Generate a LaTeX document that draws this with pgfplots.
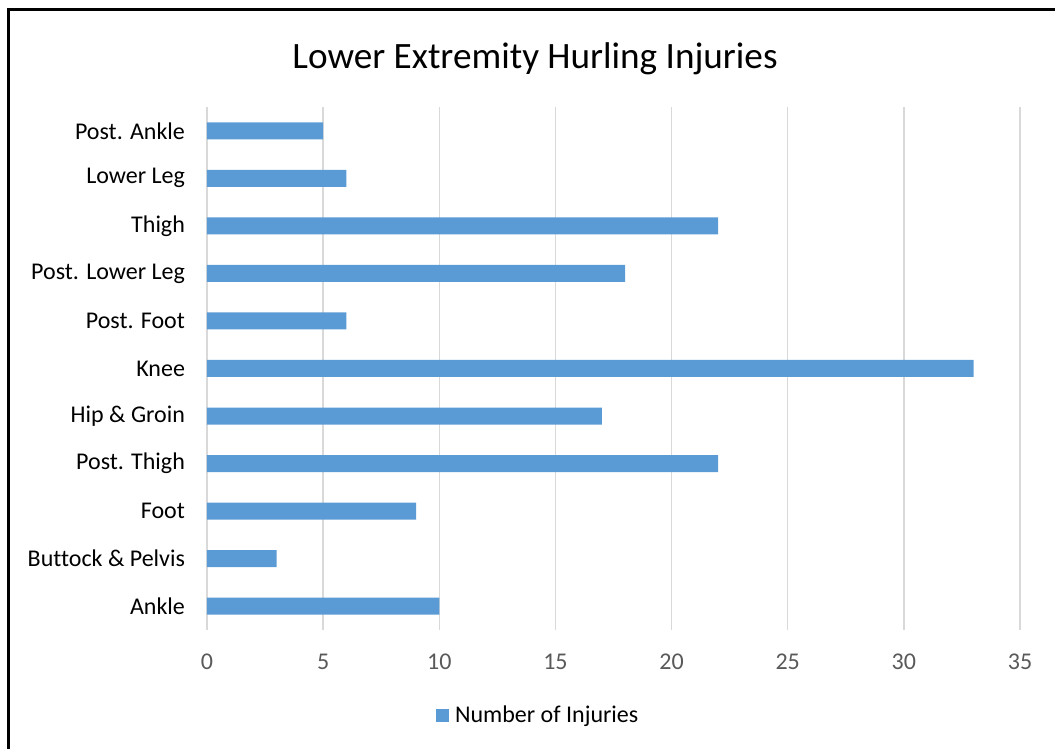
\documentclass[border=0pt]{standalone}
\usepackage{pgfplots}
\pgfplotsset{compat=1.18}
\usepackage{fontspec}
\setmainfont{Carlito}[Ligatures=NoCommon]
\definecolor{barblue}{HTML}{5B9BD5}
\definecolor{gridgray}{HTML}{D9D9D9}
\definecolor{ticktxt}{HTML}{595959}
\begin{document}
\begin{tikzpicture}[x=1pt,y=1pt]
\useasboundingbox (0,0) rectangle (527.5,374.5);
\draw[line width=1.5pt] (4.4,0) -- (4.4,369.5) -- (527.5,369.5);
\node[font=\fontsize{18.6}{22}\selectfont, text=black] at (267.5,345) {Lower Extremity Hurling Injuries};
\begin{axis}[
  at={(103.5pt,59.5pt)}, anchor=south west,
  scale only axis, width=406.5pt, height=261.5pt,
  xbar, bar width=8.5pt,
  xmin=0, xmax=35, xtick={0,5,...,35},
  ymin=-0.5, ymax=10.5,
  ytick={0,...,10},
  yticklabels={Ankle,Buttock \& Pelvis,Foot,Post. Thigh,Hip \& Groin,Knee,Post. Foot,Post. Lower Leg,Thigh,Lower Leg,Post. Ankle},
  axis line style={draw=none},
  major tick length=0pt,
  xmajorgrids, grid style={gridgray, line width=0.75pt},
  xticklabel style={text=ticktxt, font=\fontsize{12}{14}\selectfont, yshift=-8.5pt},
  yticklabel style={text=black, font=\fontsize{12}{14}\selectfont, xshift=-7.5pt},
  /pgf/number format/assume math mode=true,
  legend style={at={(0.41,-0.163)}, anchor=center, draw=none, font=\fontsize{12}{14}\selectfont, nodes={inner xsep=3pt}},
  legend cell align=left,
]
\addplot[fill=barblue, draw=none, legend image code/.code={\fill[barblue] (0pt,-3.2pt) rectangle (6.4pt,3.2pt);}] coordinates {
(10,0) (3,1) (9,2) (22,3) (17,4) (33,5) (6,6) (18,7) (22,8) (6,9) (5,10)
};
\addlegendentry{Number of Injuries}
\end{axis}
\end{tikzpicture}
\end{document}
